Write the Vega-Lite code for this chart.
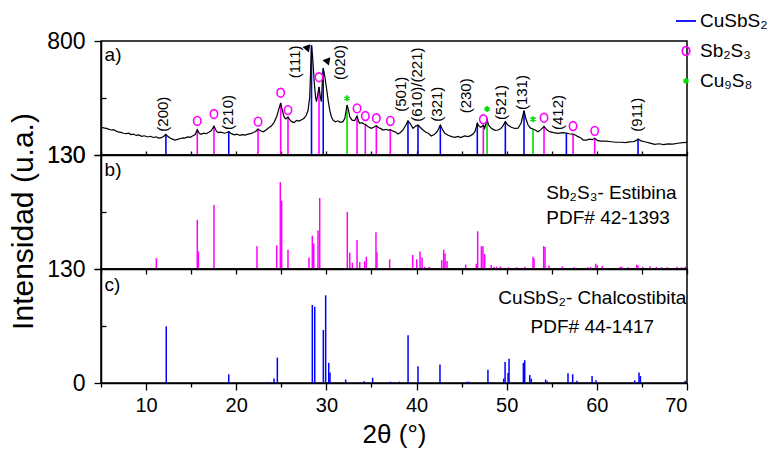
{
  "$schema": "https://vega.github.io/schema/vega-lite/v6.json",
  "padding": {"left": 7, "top": 10, "right": 0, "bottom": 0},
  "spacing": 0,
  "bounds": "flush",
  "config": {
    "view": {"stroke": "black", "strokeWidth": 1.5},
    "axis": {"grid": false, "domainColor": "black", "domainWidth": 1.5, "tickColor": "black", "tickWidth": 1.3, "labelColor": "black", "titleColor": "black", "labelFont": "Liberation Sans", "titleFont": "Liberation Sans", "titleFontWeight": "normal"},
    "text": {"font": "Liberation Sans", "color": "black"},
    "legend": {"padding": 0}
  },
  "datasets": {
    "curve": [
      {"x":5.0,"y":293},{"x":5.3,"y":289},{"x":5.6,"y":286},{"x":5.9,"y":281},{"x":6.1,"y":277},{"x":6.4,"y":279},{"x":6.7,"y":270},{"x":6.9,"y":266},{"x":7.2,"y":263},{"x":7.5,"y":258},{"x":7.8,"y":256},{"x":8.1,"y":259},{"x":8.3,"y":250},{"x":8.6,"y":253},{"x":8.9,"y":245},{"x":9.2,"y":248},{"x":9.5,"y":240},{"x":9.8,"y":243},{"x":10.2,"y":236},{"x":10.5,"y":240},{"x":10.8,"y":233},{"x":11.1,"y":237},{"x":11.4,"y":229},{"x":11.7,"y":232},{"x":12.0,"y":242},{"x":12.2,"y":252},{"x":12.4,"y":240},{"x":12.7,"y":228},{"x":13.0,"y":222},{"x":13.2,"y":217},{"x":13.5,"y":222},{"x":13.8,"y":227},{"x":14.1,"y":231},{"x":14.3,"y":229},{"x":14.6,"y":236},{"x":14.9,"y":234},{"x":15.2,"y":243},{"x":15.45,"y":250},{"x":15.68,"y":279},{"x":15.9,"y":258},{"x":16.1,"y":252},{"x":16.4,"y":258},{"x":16.7,"y":255},{"x":17.0,"y":265},{"x":17.25,"y":274},{"x":17.53,"y":300},{"x":17.8,"y":270},{"x":18.0,"y":261},{"x":18.3,"y":264},{"x":18.7,"y":258},{"x":19.0,"y":262},{"x":19.17,"y":268},{"x":19.4,"y":257},{"x":19.8,"y":248},{"x":20.1,"y":252},{"x":20.4,"y":245},{"x":20.7,"y":250},{"x":21.0,"y":247},{"x":21.3,"y":253},{"x":21.6,"y":256},{"x":21.9,"y":262},{"x":22.15,"y":268},{"x":22.42,"y":283},{"x":22.7,"y":272},{"x":23.0,"y":266},{"x":23.3,"y":277},{"x":23.6,"y":290},{"x":23.9,"y":300},{"x":24.2,"y":322},{"x":24.5,"y":358},{"x":24.7,"y":395},{"x":24.93,"y":436},{"x":25.1,"y":395},{"x":25.3,"y":355},{"x":25.5,"y":342},{"x":25.74,"y":354},{"x":25.95,"y":336},{"x":26.15,"y":326},{"x":26.4,"y":321},{"x":26.7,"y":333},{"x":26.95,"y":329},{"x":27.2,"y":336},{"x":27.5,"y":345},{"x":27.75,"y":362},{"x":27.96,"y":390},{"x":28.15,"y":470},{"x":28.25,"y":620},{"x":28.35,"y":775},{"x":28.48,"y":700},{"x":28.65,"y":560},{"x":28.8,"y":470},{"x":28.9,"y":443},{"x":29.05,"y":490},{"x":29.18,"y":530},{"x":29.32,"y":475},{"x":29.44,"y":443},{"x":29.55,"y":560},{"x":29.65,"y":640},{"x":29.8,"y":600},{"x":29.99,"y":531},{"x":30.2,"y":450},{"x":30.37,"y":394},{"x":30.55,"y":355},{"x":30.74,"y":335},{"x":31.0,"y":325},{"x":31.29,"y":331},{"x":31.55,"y":322},{"x":31.84,"y":326},{"x":32.05,"y":345},{"x":32.29,"y":424},{"x":32.45,"y":395},{"x":32.59,"y":355},{"x":32.85,"y":335},{"x":33.14,"y":332},{"x":33.25,"y":345},{"x":33.4,"y":359},{"x":33.55,"y":330},{"x":33.7,"y":316},{"x":33.95,"y":320},{"x":34.15,"y":312},{"x":34.32,"y":310},{"x":34.6,"y":298},{"x":34.98,"y":287},{"x":35.25,"y":293},{"x":35.54,"y":302},{"x":35.8,"y":290},{"x":36.05,"y":285},{"x":36.28,"y":277},{"x":36.6,"y":281},{"x":36.85,"y":276},{"x":37.09,"y":279},{"x":37.4,"y":270},{"x":37.7,"y":264},{"x":37.95,"y":253},{"x":38.2,"y":262},{"x":38.5,"y":277},{"x":38.8,"y":305},{"x":39.05,"y":331},{"x":39.3,"y":314},{"x":39.61,"y":287},{"x":39.9,"y":300},{"x":40.16,"y":306},{"x":40.45,"y":290},{"x":40.72,"y":277},{"x":41.0,"y":265},{"x":41.3,"y":258},{"x":41.64,"y":242},{"x":41.95,"y":250},{"x":42.2,"y":262},{"x":42.38,"y":277},{"x":42.64,"y":306},{"x":42.85,"y":283},{"x":43.13,"y":257},{"x":43.5,"y":246},{"x":43.9,"y":238},{"x":44.24,"y":234},{"x":44.6,"y":239},{"x":44.9,"y":232},{"x":45.34,"y":242},{"x":45.7,"y":238},{"x":46.0,"y":244},{"x":46.27,"y":253},{"x":46.5,"y":270},{"x":46.74,"y":316},{"x":46.95,"y":298},{"x":47.12,"y":293},{"x":47.3,"y":300},{"x":47.41,"y":306},{"x":47.56,"y":287},{"x":47.82,"y":340},{"x":48.0,"y":305},{"x":48.29,"y":287},{"x":48.7,"y":275},{"x":49.04,"y":277},{"x":49.35,"y":285},{"x":49.6,"y":303},{"x":49.85,"y":326},{"x":50.1,"y":308},{"x":50.51,"y":293},{"x":50.9,"y":286},{"x":51.26,"y":287},{"x":51.6,"y":318},{"x":51.92,"y":390},{"x":52.15,"y":340},{"x":52.37,"y":306},{"x":52.65,"y":288},{"x":52.92,"y":283},{"x":53.2,"y":275},{"x":53.48,"y":267},{"x":53.8,"y":279},{"x":54.14,"y":298},{"x":54.45,"y":278},{"x":54.77,"y":267},{"x":55.2,"y":262},{"x":55.69,"y":257},{"x":56.2,"y":262},{"x":56.62,"y":259},{"x":56.95,"y":255},{"x":57.36,"y":253},{"x":57.65,"y":246},{"x":57.91,"y":238},{"x":58.2,"y":232},{"x":58.47,"y":218},{"x":58.83,"y":218},{"x":59.2,"y":223},{"x":59.5,"y":220},{"x":59.76,"y":228},{"x":60.1,"y":214},{"x":60.5,"y":212},{"x":61.0,"y":211},{"x":61.61,"y":208},{"x":62.1,"y":205},{"x":62.71,"y":205},{"x":63.2,"y":203},{"x":63.6,"y":207},{"x":64.01,"y":208},{"x":64.3,"y":213},{"x":64.57,"y":224},{"x":64.9,"y":213},{"x":65.31,"y":208},{"x":65.8,"y":201},{"x":66.42,"y":193},{"x":66.9,"y":196},{"x":67.4,"y":191},{"x":67.89,"y":195},{"x":68.4,"y":194},{"x":69.0,"y":199},{"x":69.5,"y":203},{"x":70.0,"y":204}
    ],
    "refs": [
      {"series":"CuSbS₂","x":12.2,"top":252},{"series":"CuSbS₂","x":19.17,"top":268},{"series":"CuSbS₂","x":28.35,"top":775},{"series":"CuSbS₂","x":29.65,"top":640},{"series":"CuSbS₂","x":39.05,"top":331},{"series":"CuSbS₂","x":40.16,"top":306},{"series":"CuSbS₂","x":42.64,"top":306},{"series":"CuSbS₂","x":46.74,"top":316},{"series":"CuSbS₂","x":49.85,"top":326},{"series":"CuSbS₂","x":51.92,"top":390},{"series":"CuSbS₂","x":56.62,"top":259},{"series":"CuSbS₂","x":64.57,"top":224},
      {"series":"Sb₂S₃","x":15.68,"top":279},{"series":"Sb₂S₃","x":17.53,"top":300},{"series":"Sb₂S₃","x":22.42,"top":283},{"series":"Sb₂S₃","x":24.93,"top":436},{"series":"Sb₂S₃","x":25.74,"top":354},{"series":"Sb₂S₃","x":29.18,"top":530},{"series":"Sb₂S₃","x":33.4,"top":359},{"series":"Sb₂S₃","x":34.32,"top":310},{"series":"Sb₂S₃","x":35.54,"top":302},{"series":"Sb₂S₃","x":37.09,"top":279},{"series":"Sb₂S₃","x":47.41,"top":306},{"series":"Sb₂S₃","x":54.14,"top":298},{"series":"Sb₂S₃","x":57.36,"top":253},{"series":"Sb₂S₃","x":59.76,"top":228},
      {"series":"Cu₉S₈","x":32.29,"top":424},{"series":"Cu₉S₈","x":47.82,"top":340},{"series":"Cu₉S₈","x":52.92,"top":283}
    ],
    "markers": [
      {"series":"Sb₂S₃","x":15.68,"y":330},{"series":"Sb₂S₃","x":17.53,"y":371},{"series":"Sb₂S₃","x":22.42,"y":326},{"series":"Sb₂S₃","x":24.93,"y":496},{"series":"Sb₂S₃","x":25.74,"y":394},{"series":"Sb₂S₃","x":29.18,"y":587},{"series":"Sb₂S₃","x":33.4,"y":404},{"series":"Sb₂S₃","x":34.32,"y":359},{"series":"Sb₂S₃","x":35.54,"y":346},{"series":"Sb₂S₃","x":37.09,"y":330},{"series":"Sb₂S₃","x":47.41,"y":340},{"series":"Sb₂S₃","x":54.14,"y":349},{"series":"Sb₂S₃","x":57.36,"y":300},{"series":"Sb₂S₃","x":59.76,"y":272},
      {"series":"Cu₉S₈","x":32.29,"y":463},{"series":"Cu₉S₈","x":47.82,"y":400},{"series":"Cu₉S₈","x":52.92,"y":340}
    ],
    "miller": [
      {"t":"(200)","x":11.88,"y":267},{"t":"(210)","x":19.09,"y":277},{"t":"(111)","x":26.49,"y":581},{"t":"(020)","x":31.48,"y":571},{"t":"(501)","x":38.24,"y":384},{"t":"(610)/(221)","x":40.09,"y":326},{"t":"(321)","x":42.27,"y":326},{"t":"(230)","x":45.52,"y":375},{"t":"(521)","x":49.4,"y":336},{"t":"(131)","x":51.7,"y":394},{"t":"(412)","x":55.69,"y":277},{"t":"(911)","x":64.49,"y":267}
    ],
    "arrows": [{"x":27.96,"y":765},{"x":30.18,"y":688}],
    "sb": [
      {"x":11.14,"h":12.5},{"x":15.68,"h":56},{"x":15.8,"h":20},{"x":17.53,"h":73},{"x":22.3,"h":26},{"x":24.49,"h":27},{"x":24.89,"h":99},{"x":25.04,"h":78},{"x":25.74,"h":22},{"x":28.07,"h":13},{"x":28.44,"h":38},{"x":28.6,"h":29},{"x":29.07,"h":44},{"x":29.26,"h":81},{"x":32.32,"h":65},{"x":32.59,"h":18.6},{"x":32.88,"h":7},{"x":33.4,"h":33},{"x":33.7,"h":8},{"x":34.25,"h":9},{"x":34.43,"h":14},{"x":35.5,"h":42},{"x":35.61,"h":19},{"x":37.02,"h":11},{"x":39.57,"h":16},{"x":40.02,"h":11},{"x":40.39,"h":20},{"x":40.61,"h":13},{"x":40.9,"h":2.5},{"x":41.4,"h":2.5},{"x":42.79,"h":10},{"x":43.01,"h":22},{"x":43.16,"h":18},{"x":43.38,"h":9},{"x":45.45,"h":5},{"x":46.63,"h":6},{"x":46.78,"h":43},{"x":47.19,"h":26},{"x":47.37,"h":26},{"x":47.56,"h":17},{"x":48.28,"h":4.5},{"x":48.6,"h":2.5},{"x":48.9,"h":2.5},{"x":49.3,"h":3},{"x":50.2,"h":2},{"x":51.1,"h":2},{"x":52.0,"h":2.5},{"x":52.92,"h":14},{"x":53.03,"h":12},{"x":54.1,"h":26},{"x":54.25,"h":25},{"x":54.7,"h":4},{"x":56.18,"h":3},{"x":57.5,"h":2},{"x":58.99,"h":2},{"x":59.3,"h":2.5},{"x":59.87,"h":6},{"x":60.05,"h":4.5},{"x":60.6,"h":3.5},{"x":62.6,"h":2.5},{"x":62.8,"h":2.5},{"x":63.5,"h":2},{"x":64.42,"h":5},{"x":64.56,"h":4},{"x":65.1,"h":2.5},{"x":65.9,"h":3},{"x":66.6,"h":2.5},{"x":67.2,"h":2},{"x":67.8,"h":2},{"x":68.9,"h":2.5},{"x":69.4,"h":2},{"x":69.8,"h":2.5}
    ],
    "cu": [
      {"x":12.24,"h":64.7},{"x":19.17,"h":9.9},{"x":23.57,"h":1.2},{"x":24.19,"h":5},{"x":24.56,"h":29},{"x":28.44,"h":89},{"x":28.71,"h":87},{"x":29.66,"h":60.5},{"x":29.92,"h":100},{"x":30.26,"h":23},{"x":30.4,"h":12},{"x":32.14,"h":4},{"x":33.4,"h":1},{"x":34.2,"h":2},{"x":35.13,"h":6},{"x":37.1,"h":1.5},{"x":38.1,"h":1.5},{"x":39.06,"h":54.4},{"x":40.16,"h":19},{"x":42.6,"h":21},{"x":45.6,"h":1.5},{"x":45.8,"h":1.5},{"x":47.92,"h":15},{"x":48.3,"h":1},{"x":49.67,"h":5},{"x":49.82,"h":24},{"x":50.15,"h":11.5},{"x":50.26,"h":27.6},{"x":51.85,"h":23},{"x":52.0,"h":26},{"x":52.56,"h":9},{"x":52.73,"h":5},{"x":54.32,"h":4},{"x":54.5,"h":2},{"x":56.8,"h":11},{"x":57.32,"h":10},{"x":57.8,"h":2.5},{"x":58.9,"h":1},{"x":59.47,"h":8},{"x":59.9,"h":3},{"x":64.2,"h":3},{"x":64.68,"h":12},{"x":64.83,"h":8},{"x":69.8,"h":2.5}
    ]
  },
  "vconcat": [
    {
      "width": 586,
      "height": 114,
      "layer": [
        {
          "data": {"name": "refs"},
          "mark": {"type": "rule", "strokeWidth": 1.6},
          "encoding": {
            "x": {"field": "x", "type": "quantitative", "scale": {"domain": [5, 70], "nice": false},
                  "axis": {"title": null, "labels": false, "values": [5,7.5,10,12.5,15,17.5,20,22.5,25,27.5,30,32.5,35,37.5,40,42.5,45,47.5,50,52.5,55,57.5,60,62.5,65,67.5,70], "tickSize": -4}},
            "y": {"field": "top", "type": "quantitative", "scale": {"domain": [130, 800], "nice": false, "zero": false},
                  "axis": {"title": null, "values": [130, 465, 800], "labelExpr": "datum.value == 465 ? '' : datum.label", "labelFontSize": 23, "labelPadding": 9,
                           "tickSize": {"condition": {"test": "datum.value == 465", "value": -5}, "value": 7}}},
            "y2": {"datum": 130},
            "color": {"field": "series", "type": "nominal",
                      "scale": {"domain": ["CuSbS₂", "Sb₂S₃", "Cu₉S₈"], "range": ["#0000FF", "#FF00FF", "#00DD00"]}}
          }
        },
        {
          "data": {"name": "curve"},
          "mark": {"type": "line", "color": "black", "strokeWidth": 1.2},
          "encoding": {
            "x": {"field": "x", "type": "quantitative"},
            "y": {"field": "y", "type": "quantitative"}
          }
        },
        {
          "data": {"name": "markers"},
          "mark": {"type": "point", "filled": false, "size": 400, "strokeWidth": 1.6, "opacity": 1},
          "encoding": {
            "x": {"field": "x", "type": "quantitative"},
            "y": {"field": "y", "type": "quantitative"},
            "color": {"field": "series", "type": "nominal",
                      "legend": {"orient": "none", "legendX": 574, "legendY": -31, "title": null, "direction": "vertical",
                                 "labelFontSize": 19, "labelFont": "Liberation Sans", "labelColor": "black", "labelOffset": 3,
                                 "symbolSize": 400, "symbolStrokeWidth": 1.8, "rowPadding": 9}},
            "shape": {"field": "series", "type": "nominal",
                      "scale": {"domain": ["CuSbS₂", "Sb₂S₃", "Cu₉S₈"],
                                "range": ["M-1,0L1,0",
                                          "M0,-0.44A0.37,0.44 0 1,1 0,0.44A0.37,0.44 0 1,1 0,-0.44Z",
                                          "M0,-0.3L0,0.3M-0.26,-0.15L0.26,0.15M-0.26,0.15L0.26,-0.15"]}}
          }
        },
        {
          "data": {"name": "miller"},
          "mark": {"type": "text", "angle": 270, "align": "left", "baseline": "middle", "fontSize": 15},
          "encoding": {
            "x": {"field": "x", "type": "quantitative"},
            "y": {"field": "y", "type": "quantitative"},
            "text": {"field": "t"}
          }
        },
        {
          "data": {"name": "arrows"},
          "mark": {"type": "point", "shape": "triangle-up", "filled": true, "color": "black", "size": 70, "angle": 40, "opacity": 1},
          "encoding": {
            "x": {"field": "x", "type": "quantitative"},
            "y": {"field": "y", "type": "quantitative"}
          }
        },
        {
          "data": {"values": [{"t": "a)", "x": 5.4, "y": 718}]},
          "mark": {"type": "text", "align": "left", "baseline": "middle", "fontSize": 19},
          "encoding": {
            "x": {"field": "x", "type": "quantitative"},
            "y": {"field": "y", "type": "quantitative"},
            "text": {"field": "t"}
          }
        }
      ]
    },
    {
      "width": 586,
      "height": 114,
      "layer": [
        {
          "data": {"name": "sb"},
          "mark": {"type": "rule", "color": "#FF00FF", "strokeWidth": 1.5},
          "encoding": {
            "x": {"field": "x", "type": "quantitative", "scale": {"domain": [5, 70], "nice": false},
                  "axis": {"title": null, "labels": false, "values": [5,7.5,10,12.5,15,17.5,20,22.5,25,27.5,30,32.5,35,37.5,40,42.5,45,47.5,50,52.5,55,57.5,60,62.5,65,67.5,70], "tickSize": 5}},
            "y": {"field": "h", "type": "quantitative", "scale": {"domain": [0, 130], "nice": false},
                  "axis": {"title": "Intensidad (u.a.)", "titleFontSize": 30, "titlePadding": 8, "titleY": 66, "values": [0, 65, 130], "labelExpr": "datum.value == 130 ? datum.label : ''", "labelFontSize": 23, "labelPadding": 9,
                           "tickSize": {"condition": {"test": "datum.value == 65", "value": -5}, "value": 7}}},
            "y2": {"datum": 0}
          }
        },
        {
          "data": {"values": [{"t": "Sb₂S₃- Estibina", "x": 54.4, "y": 87}, {"t": "PDF# 42-1393", "x": 54.4, "y": 58.5}]},
          "mark": {"type": "text", "align": "left", "baseline": "middle", "fontSize": 19},
          "encoding": {
            "x": {"field": "x", "type": "quantitative"},
            "y": {"field": "y", "type": "quantitative"},
            "text": {"field": "t"}
          }
        },
        {
          "data": {"values": [{"t": "b)", "x": 5.4, "y": 113}]},
          "mark": {"type": "text", "align": "left", "baseline": "middle", "fontSize": 19},
          "encoding": {
            "x": {"field": "x", "type": "quantitative"},
            "y": {"field": "y", "type": "quantitative"},
            "text": {"field": "t"}
          }
        }
      ]
    },
    {
      "width": 586,
      "height": 114,
      "layer": [
        {
          "data": {"name": "cu"},
          "mark": {"type": "rule", "color": "#0000FF", "strokeWidth": 1.5},
          "encoding": {
            "x": {"field": "x", "type": "quantitative", "scale": {"domain": [5, 70], "nice": false},
                  "axis": {"title": "2θ (°)", "titleFontSize": 26, "titlePadding": 6, "values": [5,10,15,20,25,30,35,40,45,50,55,60,65,70],
                           "labelExpr": "datum.value % 10 == 0 ? datum.label : ''", "labelFontSize": 20, "labelPadding": 5,
                           "tickSize": {"condition": {"test": "datum.value % 10 == 0", "value": 7}, "value": 4}}},
            "y": {"field": "h", "type": "quantitative", "scale": {"domain": [0, 130], "nice": false},
                  "axis": {"title": null, "values": [0, 65, 130], "labelExpr": "datum.value == 65 ? '' : datum.label", "labelFontSize": 23, "labelPadding": 9,
                           "tickSize": {"condition": {"test": "datum.value == 65", "value": -5}, "value": 7}}},
            "y2": {"datum": 0}
          }
        },
        {
          "data": {"values": [{"t": "CuSbS₂- Chalcostibita", "x": 59.5, "y": 96.6}, {"t": "PDF# 44-1417", "x": 59.5, "y": 63.6}]},
          "mark": {"type": "text", "align": "center", "baseline": "middle", "fontSize": 19},
          "encoding": {
            "x": {"field": "x", "type": "quantitative"},
            "y": {"field": "y", "type": "quantitative"},
            "text": {"field": "t"}
          }
        },
        {
          "data": {"values": [{"t": "c)", "x": 5.4, "y": 112}]},
          "mark": {"type": "text", "align": "left", "baseline": "middle", "fontSize": 19},
          "encoding": {
            "x": {"field": "x", "type": "quantitative"},
            "y": {"field": "y", "type": "quantitative"},
            "text": {"field": "t"}
          }
        }
      ]
    }
  ]
}
